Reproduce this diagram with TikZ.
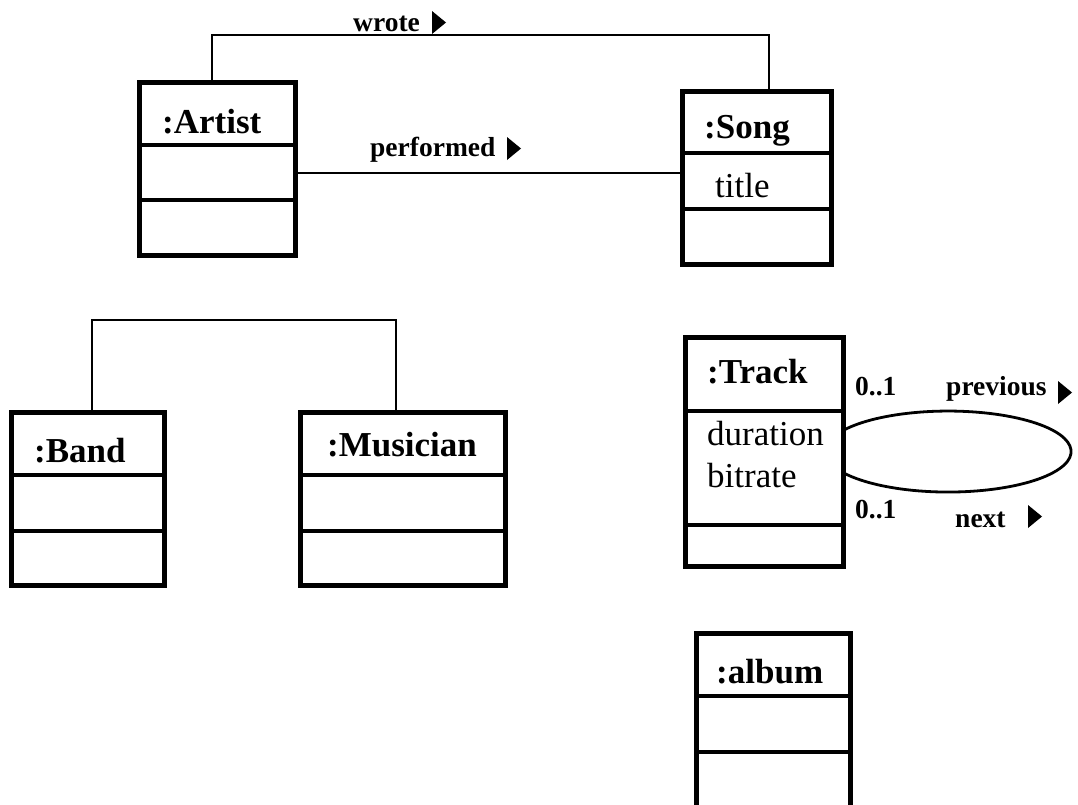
\documentclass[tikz,border=0pt]{standalone}
\usepackage{fontspec}
\setmainfont{Liberation Serif}

% horizontal compartment lines of an object box, given as offsets from its top
\newcommand\objdividers[3]{%
  \draw[divider] ([yshift=-#2]#1.north west) -- ([yshift=-#2]#1.north east);
  \draw[divider] ([yshift=-#3]#1.north west) -- ([yshift=-#3]#1.north east);
}
% filled direction marker, lower-left corner given
\newcommand\dirmark[1]{\fill #1 -- ++(0,23) -- ++(14,-11.5) -- cycle;}

\begin{document}
\begin{tikzpicture}[x=1pt,y=1pt,
  objbox/.style={draw, line width=5pt, fill=white, inner sep=0pt,
                 outer sep=0pt, anchor=north west},
  divider/.style={line width=3.2pt},
  assoc/.style={line width=2.8pt},
  objname/.style={font=\fontsize{35}{40}\selectfont\bfseries,
                  anchor=base west, inner sep=0pt},
  attr/.style={font=\fontsize{35}{40}\selectfont,
               anchor=base west, inner sep=0pt},
  role/.style={font=\fontsize{27.5}{32}\selectfont\bfseries,
               anchor=base west, inner sep=0pt},
]
\useasboundingbox (0,0) rectangle (1078,-804);
\clip (0,0) rectangle (1078,-804);

% object boxes
\node[objbox, minimum width=156, minimum height=173] (artist) at (139,-82) {};
\objdividers{artist}{63}{118}
\node[objname] (artistname) at (162,-133) {:Artist};

\node[objbox, minimum width=149, minimum height=173] (song) at (682,-91) {};
\objdividers{song}{62}{118}
\node[objname] (songname) at (704,-138) {:Song};
\node[attr] (songtitle) at (715,-197) {title};

\node[objbox, minimum width=153, minimum height=173] (band) at (11,-412) {};
\objdividers{band}{63}{119}
\node[objname] (bandname) at (34,-462) {:Band};

\node[objbox, minimum width=205, minimum height=173] (musician) at (300,-412) {};
\objdividers{musician}{63}{119}
\node[objname] (musicianname) at (327,-456) {:Musician};

\node[objbox, minimum width=158, minimum height=229] (track) at (685,-337) {};
\objdividers{track}{74}{188}
\node[objname] (trackname) at (707,-383) {:Track};
\node[attr] (trackdur) at (707,-445) {duration};
\node[attr] (trackbit) at (707,-487) {bitrate};

\node[objbox, minimum width=154, minimum height=200] (album) at (696,-633) {};
\objdividers{album}{63}{119}
\node[objname] (albumname) at (716,-683) {:album};

% links
\draw[assoc] ([xshift=-5]artist.north) -- ++(0,47) -| ([xshift=12.5]song.north);
\draw[assoc] ([yshift=-4.5]artist.east) -- ([yshift=4.5]song.west);
\draw[assoc] ([xshift=4.5]band.north) -- ++(0,92) -| ([xshift=-6.5]musician.north);
\draw[assoc] ([yshift=21]track.east)
  arc[start angle=148.7, end angle=-148.7, x radius=123, y radius=40.5];

% link labels
\node[role] (wrote) at (353,-31) {wrote};
\dirmark{(432,-34)}
\node[role] (performed) at (370,-156) {performed};
\dirmark{(507,-160)}
\node[role] (multprev) at (855,-395) {0..1};
\node[role] (previous) at (946,-395) {previous};
\dirmark{(1058,-404)}
\node[role] (multnext) at (855,-518) {0..1};
\node[role] (next) at (955,-527) {next};
\dirmark{(1028,-528)}
\end{tikzpicture}
\end{document}
